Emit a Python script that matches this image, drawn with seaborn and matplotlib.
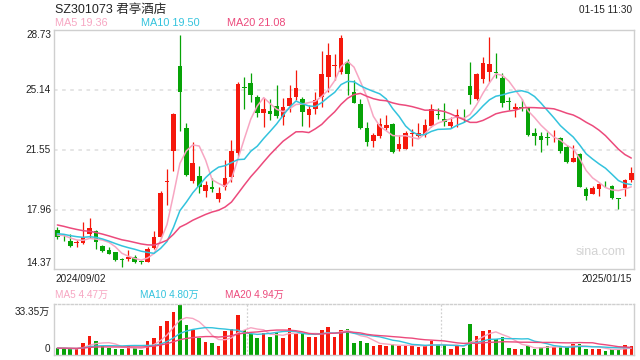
import numpy as np
import pandas as pd
import seaborn as sns
import matplotlib
matplotlib.use("Agg")
import matplotlib.pyplot as plt

# daily candles, 2024/09/02 .. 2025/01/15 (90 trading days)
opens = [16.74, 16.26, 16.08, 15.96, 15.98, 16.50, 16.68, 15.78, 15.54, 15.40,
         14.96, 14.98, 15.14, 14.84, 14.84, 15.64, 16.30, 19.62, 21.50, 26.58,
         22.86, 19.70, 19.98, 19.10, 19.32, 18.58, 19.30, 19.94, 21.38, 25.30,
         25.58, 24.74, 23.78, 23.90, 24.18, 23.54, 24.18, 24.74, 24.58, 23.64,
         24.00, 24.74, 25.94, 26.56, 26.24, 26.80, 25.02, 24.30, 22.86, 22.08,
         22.38, 22.88, 23.08, 21.60, 21.60, 22.52, 22.38, 22.44, 23.00, 23.68,
         23.38, 22.98, 23.50, 23.46, 25.38, 24.60, 25.80, 26.24, 26.20, 25.84,
         24.46, 24.00, 24.10, 24.10, 22.56, 22.38, 22.30, 22.30, 22.24, 21.74,
         20.84, 21.30, 19.18, 18.90, 19.18, 19.56, 19.40, 18.62, 19.24, 19.74]
highs = [16.90, 16.48, 16.48, 16.14, 17.24, 17.48, 16.74, 15.84, 15.70, 15.44,
         15.08, 15.54, 15.22, 14.94, 15.70, 16.70, 19.06, 20.38, 23.78, 28.46,
         23.14, 22.00, 20.58, 19.70, 19.88, 19.34, 20.94, 22.14, 25.64, 25.94,
         26.14, 24.84, 24.64, 24.58, 25.44, 24.64, 25.44, 26.34, 24.70, 24.24,
         25.04, 27.50, 27.98, 27.30, 28.44, 26.98, 25.74, 24.60, 23.24, 22.54,
         23.44, 23.64, 23.14, 22.44, 22.68, 22.80, 23.18, 23.38, 24.30, 24.04,
         24.38, 23.50, 24.00, 24.00, 26.80, 26.18, 27.10, 28.34, 27.34, 26.18,
         24.70, 24.34, 24.58, 24.14, 22.84, 22.64, 22.64, 22.74, 22.30, 21.84,
         21.84, 21.34, 19.34, 19.38, 19.54, 19.70, 19.44, 18.64, 19.78, 20.54]
lows = [16.18, 16.08, 15.74, 15.74, 15.88, 16.24, 15.60, 15.44, 15.28, 14.90,
        14.50, 14.90, 14.74, 14.68, 14.80, 15.58, 16.24, 18.24, 20.30, 22.68,
        20.00, 19.54, 18.98, 18.74, 19.04, 18.44, 19.14, 19.60, 21.18, 23.98,
        24.44, 23.50, 22.90, 23.34, 23.44, 23.04, 23.84, 24.54, 23.00, 22.94,
        23.70, 24.10, 25.04, 25.74, 26.10, 24.84, 24.34, 22.80, 21.78, 21.70,
        22.24, 22.74, 21.34, 21.50, 21.60, 21.78, 22.34, 22.34, 22.90, 23.40,
        22.98, 22.84, 22.94, 23.24, 24.30, 24.54, 25.58, 25.64, 25.84, 24.10,
        23.94, 23.50, 23.90, 22.38, 21.84, 21.44, 21.84, 22.04, 21.34, 20.78,
        20.84, 19.30, 18.54, 18.90, 18.78, 19.30, 18.60, 18.00, 18.80, 19.64]
closes = [16.30, 16.24, 15.80, 15.98, 16.30, 16.86, 16.04, 15.50, 15.32, 14.94,
          14.94, 15.14, 14.84, 14.82, 15.58, 16.30, 18.98, 19.66, 23.70, 25.04,
          20.06, 20.76, 19.34, 19.44, 19.18, 18.96, 19.86, 21.50, 25.50, 25.28,
          24.86, 23.78, 24.00, 23.70, 23.58, 24.14, 24.66, 25.28, 23.84, 24.00,
          24.54, 26.10, 27.24, 26.60, 28.26, 26.08, 24.38, 22.88, 22.04, 22.44,
          23.08, 23.04, 21.44, 21.90, 22.54, 22.56, 22.56, 23.04, 23.98, 23.64,
          23.22, 23.22, 23.62, 23.44, 24.84, 26.10, 26.74, 26.70, 26.16, 24.38,
          24.42, 24.10, 24.08, 22.44, 22.38, 22.14, 22.28, 22.34, 21.50, 20.84,
          21.08, 19.34, 18.80, 19.28, 19.48, 19.54, 18.64, 18.60, 19.74, 20.14]
# volume, 万 shares
volumes = [4.8, 3.7, 3.7, 3.7, 8.1, 12.5, 9.2, 5.9, 4.6, 3.9,
           3.9, 5.9, 4.6, 3.3, 9.2, 11.2, 19.1, 22.3, 28.3, 32.9,
           19.7, 16.4, 11.4, 8.8, 8.1, 5.9, 15.8, 17.1, 26.3, 16.4,
           13.6, 11.4, 14.7, 12.0, 14.9, 11.4, 17.5, 14.7, 14.2, 12.0,
           12.0, 16.4, 18.6, 12.0, 16.4, 17.1, 8.1, 9.4, 8.1, 5.9,
           6.6, 5.9, 7.2, 6.1, 6.1, 6.1, 5.5, 5.9, 9.4, 6.6,
           6.6, 3.9, 5.9, 4.8, 20.4, 12.5, 15.8, 16.4, 10.5, 11.6,
           4.8, 4.1, 4.1, 6.1, 4.1, 5.2, 6.1, 5.0, 5.7, 5.2,
           7.2, 7.2, 3.9, 4.0, 4.0, 2.9, 3.6, 3.6, 6.3, 5.9]
# sessions before the window, only used to seed the moving averages
pre_closes = [17.9, 17.8, 17.7, 17.8, 17.6, 17.5, 17.4, 17.5, 17.3, 17.2,
              16.6, 16.6, 16.6, 16.7, 16.5, 16.4, 16.5, 16.6, 16.4]
pre_volumes = [4.6, 4.2, 5.0, 4.4, 4.8, 4.1, 4.5, 5.2, 4.3, 4.6,
               4.4, 4.9, 4.2, 4.5, 4.7, 4.0, 4.6, 4.3, 4.5]

title = "SZ301073 君亭酒店"
stamp = "01-15 11:30"
date_labels = ["2024/09/02", "2025/01/15"]
price_ticks = [28.73, 25.14, 21.55, 17.96, 14.37]
vol_top = 33.35
ma_windows = [5, 10, 20]
ma_colors = ["#f7a6c2", "#33c3dd", "#ec4a7c"]
# values printed in the legends of the source chart
ma_price_text = ["19.36", "19.50", "21.08"]
ma_vol_text = ["4.47万", "4.80万", "4.94万"]

RED = "#f5180c"
GREEN = "#07a307"
TXT = "#222222"

sns.set_theme(style="white")
plt.rcParams["font.family"] = ["Liberation Sans", "Noto Sans CJK SC", "DejaVu Sans"]

n = len(closes)
idx = np.arange(n)
df = pd.DataFrame({"i": idx, "open": opens, "high": highs, "low": lows,
                   "close": closes, "vol": volumes})
up = df["close"] >= df["open"]
cols = np.where(up, RED, GREEN)

all_c = pd.Series(pre_closes + closes)
all_v = pd.Series(pre_volumes + volumes)
k = len(pre_closes)
for w in ma_windows:
    df[f"ma{w}"] = all_c.rolling(w).mean().iloc[k:].values
    df[f"vma{w}"] = all_v.rolling(w).mean().iloc[k:].values

fig = plt.figure(figsize=(6.4, 3.6), dpi=100)


def fx(px):
    return px / 640


def fy(py):
    return 1 - py / 360


ax = fig.add_axes([fx(54), fy(268.5), fx(634) - fx(54), (268.5 - 29.5) / 360])
axv = fig.add_axes([fx(54), fy(355), fx(634) - fx(54), (355 - 304) / 360])

# price panel
ax.set_xlim(-0.52, 89.42)
ylo = 17.96 - (268.5 - 209.7) / 16.67
yhi = 25.14 + (90 - 29.5) / 16.67
ax.set_ylim(ylo, yhi)
for g in price_ticks[1:4]:
    ax.axhline(g, color="#e3e3e3", lw=1.3, ls=(0, (2, 2.5)), zorder=0)

ax.vlines(df["i"], df["low"], df["high"], colors=cols, lw=0.9, zorder=2)
body_lo = np.minimum(df["open"], df["close"])
body_h = np.maximum(np.abs(df["close"] - df["open"]), 0.05)
ax.bar(df["i"], body_h, bottom=body_lo, width=0.72, color=cols, lw=0, zorder=3)

for w, c in zip(ma_windows, ma_colors):
    sns.lineplot(data=df, x="i", y=f"ma{w}", ax=ax, color=c, lw=1.1, zorder=4)

ax.set_xlabel("")
ax.set_ylabel("")
ax.set_xticks([])
ax.set_yticks([])
for s in ax.spines.values():
    s.set_color("#cfcfcf")
    s.set_linewidth(1)

ax.text(0.985, 0.07, "sina.com", transform=ax.transAxes, ha="right",
        va="center", color="#d3d3d3", fontsize=9)

# price labels (left of the frame)
for i, t in enumerate(price_ticks):
    if i == 0:
        y = 35.5
    elif i == 4:
        y = 263.5
    else:
        y = 30.2 + (28.73 - t) * 16.67
    fig.text(fx(51), fy(y), f"{t:.2f}", ha="right", va="center",
             fontsize=7.2, color=TXT)

# volume panel
axv.set_xlim(-0.52, 89.42)
axv.set_ylim(0, vol_top)
axv.bar(df["i"], df["vol"], width=0.55, color=cols, lw=0, zorder=2)
for w, c in zip(ma_windows, ma_colors):
    sns.lineplot(data=df, x="i", y=f"vma{w}", ax=axv, color=c, lw=1.0, zorder=3)
for f in (1 / 3, 2 / 3):
    axv.axvline(89.42 * f - 0.52 * (1 - f), color="#d0d0d0", lw=0.9,
                ls=(0, (1.5, 1.5)), zorder=0)
axv.set_xlabel("")
axv.set_ylabel("")
axv.set_xticks([])
axv.set_yticks([])
for name, s in axv.spines.items():
    s.set_color("#cfcfcf")
    s.set_linewidth(1)
axv.spines["top"].set_linestyle((0, (1.5, 1.5)))

fig.text(fx(50), fy(312), f"{vol_top:.2f}万", ha="right", va="center",
         fontsize=7.2, color=TXT)
fig.text(fx(50), fy(349), "0", ha="right", va="center", fontsize=7.2, color=TXT)

# header texts
fig.text(fx(55), fy(10), title, ha="left", va="center", fontsize=9, color=TXT)
fig.text(fx(632), fy(10), stamp, ha="right", va="center", fontsize=7.2, color=TXT)
ma_x = [55, 141, 227]
for w, c, x, v in zip(ma_windows, ma_colors, ma_x, ma_price_text):
    fig.text(fx(x), fy(23), f"MA{w} {v}", ha="left", va="center",
             fontsize=7.8, color=c)

fig.text(fx(55), fy(279), date_labels[0], ha="left", va="center",
         fontsize=7.2, color=TXT)
fig.text(fx(632), fy(279), date_labels[1], ha="right", va="center",
         fontsize=7.2, color=TXT)
vma_x = [55, 140, 225]
for w, c, x, v in zip(ma_windows, ma_colors, vma_x, ma_vol_text):
    fig.text(fx(x), fy(295), f"MA{w} {v}", ha="left", va="center",
             fontsize=7.2, color=c)

fig.savefig("out.png", dpi=100)
